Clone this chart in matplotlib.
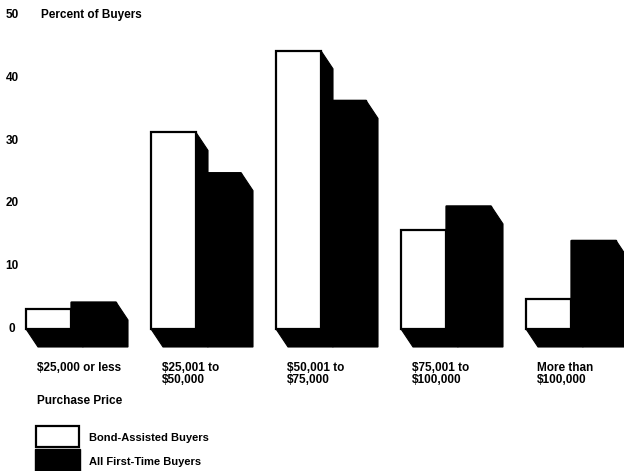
import matplotlib

matplotlib.use("Agg")
import matplotlib.pyplot as plt
from matplotlib.patches import Polygon, Rectangle

# values (percent of buyers)
categories = ["$25,000 or less", "$25,001 to\n$50,000", "$50,001 to\n$75,000",
              "$75,001 to\n$100,000", "More than\n$100,000"]
bond_assisted = [3.2, 31.3, 44.3, 15.8, 4.8]
all_first_time = [4.3, 24.9, 36.4, 19.6, 14.1]
y_ticks = [0, 10, 20, 30, 40, 50]

W, H = 624, 471
FONT = "Liberation Sans"
FS = 8.5

fig = plt.figure(figsize=(W / 100, H / 100), dpi=100)
ax = fig.add_axes([0, 0, 1, 1])
ax.axis("off")

# pixel mapping: y=0 at row 329, 6.28 px per percent; group i centred at 71 + 125*i
px_per_unit = 6.28
gap = 125.0
ax.set_ylim(-(H - 329) / px_per_unit, 329 / px_per_unit)
ax.set_xlim(-71 / gap, (W - 71) / gap)

bw = 45 / gap            # bar width in category units
dx = 12 / gap            # 3d depth offset
dy = -18 / px_per_unit


def extrusion(x0, x1, h):
    return Polygon([(x0, h), (x1, h), (x1 + dx, h + dy), (x1 + dx, dy),
                    (x0 + dx, dy), (x0, 0)], closed=True, facecolor="black",
                   edgecolor="black", linewidth=0.8)


for i, (b, a) in enumerate(zip(bond_assisted, all_first_time)):
    # black bar (behind) then white bar in front
    ax.add_patch(extrusion(i, i + bw, a))
    ax.add_patch(Rectangle((i, 0), bw, a, facecolor="black", edgecolor="black"))
    ax.add_patch(extrusion(i - bw, i, b))
    ax.add_patch(Rectangle((i - bw, 0), bw, b, facecolor="white",
                           edgecolor="black", linewidth=1.6))
    ax.text(i - bw + 11 / gap, -(362 - 329) / px_per_unit, categories[i],
            ha="left", va="top", fontsize=FS, fontweight="bold", family=FONT,
            linespacing=1.0)

for t in y_ticks:
    ax.text(-59 / gap, t, str(t), ha="center", va="center", fontsize=FS,
            fontweight="bold", family=FONT)

fig.text(41 / W, 1 - 15 / H, "Percent of Buyers", ha="left", va="center",
         fontsize=FS, fontweight="bold", family=FONT)
fig.text(37 / W, 1 - 401 / H, "Purchase Price", ha="left", va="center",
         fontsize=FS, fontweight="bold", family=FONT)

# legend
fig.patches.append(Rectangle((36 / W, 1 - 447 / H), 43 / W, 21 / H,
                             transform=fig.transFigure, facecolor="white",
                             edgecolor="black", linewidth=1.6))
fig.patches.append(Rectangle((35 / W, 0), 45 / W, 22 / H,
                             transform=fig.transFigure, facecolor="black",
                             edgecolor="black"))
fig.text(89 / W, 1 - 438 / H, "Bond-Assisted Buyers", ha="left", va="center",
         fontsize=FS - 0.5, fontweight="bold", family=FONT)
fig.text(89 / W, 1 - 462 / H, "All First-Time Buyers", ha="left", va="center",
         fontsize=FS - 0.5, fontweight="bold", family=FONT)

fig.savefig("out.png", dpi=100)
